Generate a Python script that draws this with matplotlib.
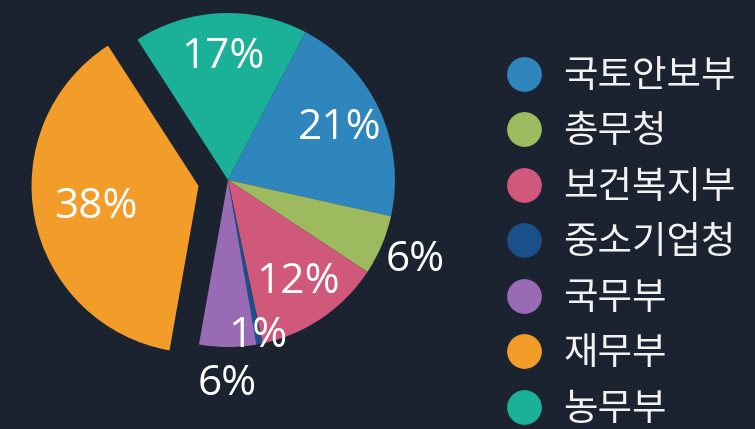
#!/usr/bin/env python3
"""Pie of agency shares on a dark background."""

import numpy as np
import matplotlib
matplotlib.use("Agg")
import matplotlib.pyplot as plt
from matplotlib.lines import Line2D

BG = "#1b2330"

agencies = ["국토안보부", "총무청", "보건복지부", "중소기업청", "국무부", "재무부", "농무부"]
shares = [20.8, 5.8, 12.4, 0.6, 5.5, 38.1, 16.8]
colors = ["#2e86bd", "#9dbb5e", "#d0587b", "#1a4f8a", "#9a6bb5", "#f29c2a", "#1bb098"]
exploded = "재무부"


def main() -> None:
    fig = plt.figure(figsize=(7.55, 4.29), dpi=100, facecolor=BG)
    ax = fig.add_axes([0, 0, 1, 1])
    ax.set_facecolor(BG)

    cx, cy, r = 228, 249, 167
    # matplotlib's explode is in data units, so scale by the radius
    explode = [0.18 * r if a == exploded else 0 for a in agencies]
    wedges, _ = ax.pie(shares, colors=colors, startangle=62.35, counterclock=False,
                       center=(cx, cy), radius=r, explode=explode,
                       wedgeprops=dict(linewidth=0), frame=True)
    ax.set_xlim(0, 755)
    ax.set_ylim(0, 429)
    ax.set_aspect("equal")
    ax.axis("off")

    total = sum(shares)
    for a, w, v in zip(agencies, wedges, shares):
        pct = 100 * v / total
        mid = np.deg2rad((w.theta1 + w.theta2) / 2)
        if a == exploded:
            k = 0.63
        elif pct >= 10:
            k = 0.74
        elif pct >= 2:
            k = 1.22
        else:
            k = 0.95
        x = w.center[0] + k * r * np.cos(mid)
        y = w.center[1] + k * r * np.sin(mid)
        ax.text(x, y, f"{pct:.0f}%", ha="center", va="center", color="white",
                fontsize=30.5, family=["Open Sans", "DejaVu Sans"])

    handles = [Line2D([], [], linestyle="none", marker="o", markersize=24,
                      markerfacecolor=c, markeredgecolor=c) for c in colors]
    fig.legend(handles, agencies, loc="upper left", bbox_to_anchor=(0.672, 0.868),
               frameon=False, labelcolor="#f2f2f2", handlelength=0.9,
               handletextpad=0.6, labelspacing=0.44, borderaxespad=0, borderpad=0,
               prop=dict(family=["Noto Sans CJK KR", "DejaVu Sans"], size=27))

    fig.savefig("out.png", dpi=100, facecolor=BG)


if __name__ == "__main__":
    main()
